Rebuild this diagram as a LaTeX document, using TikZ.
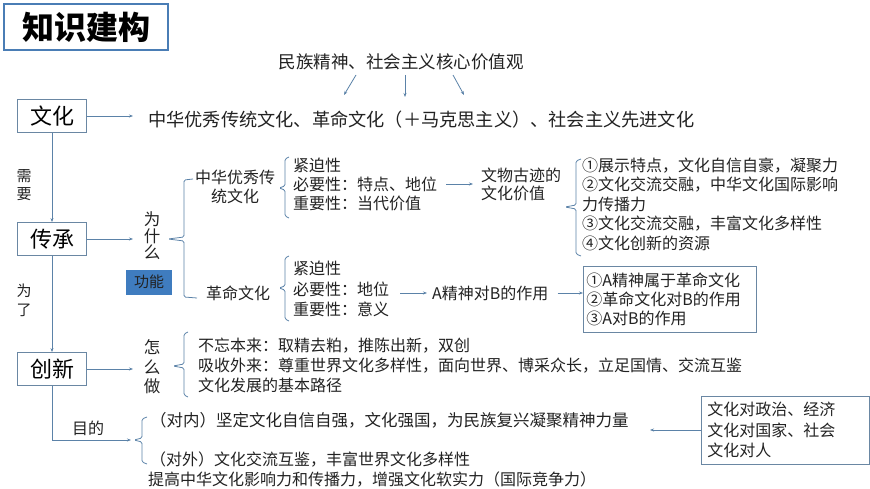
\documentclass[tikz,border=0pt]{standalone}
\usepackage{fontspec}
\setmainfont{Noto Sans CJK SC}
\usetikzlibrary{arrows.meta}
\definecolor{linecol}{HTML}{5B82A8}
\definecolor{boxcol}{HTML}{6A87A3}
\definecolor{titlecol}{HTML}{4A7DB5}
\definecolor{fncol}{HTML}{3F7CBF}
\definecolor{txtcol}{HTML}{222222}
\newcommand{\fs}[2]{\fontsize{#1}{#2}\selectfont}
\begin{document}
\begin{tikzpicture}[x=1pt, y=-1pt,
  line/.style={draw=linecol, line width=0.8pt},
  arr/.style={line, -{Stealth[length=4pt,width=3pt]}},
  brace/.style={line, rounded corners=1.5pt},
  box/.style={draw=boxcol, line width=0.8pt, minimum width=69pt, minimum height=33pt, inner sep=0pt, font=\fs{22}{24}},
  txt/.style={inner sep=0pt, anchor=west, align=left, text=txtcol, font=\fs{16}{19}}]
\useasboundingbox (0,0) rectangle (870,489);

\node [draw=titlecol, line width=2pt, minimum width=164pt, minimum height=46pt, font=\fs{32}{34}\bfseries] (title) at (86,27) {知识建构};

\node [box] (wenhua) at (52,116) {文化};
\node [box] (chuancheng) at (52,239) {传承};
\node [box] (chuangxin) at (52,369) {创新};

\node [txt, anchor=center, font=\fs{17.5}{20}] (values) at (401,62) {民族精神、社会主义核心价值观};
\node [txt, font=\fs{18.2}{20}] (kinds) at (148,120) {中华优秀传统文化、革命文化（＋马克思主义）、社会主义先进文化};
\coordinate (v1) at (356,75); \coordinate (v1e) at (344,95);
\coordinate (v2) at (405,75); \coordinate (v2e) at (405,97);
\coordinate (v3) at (453,75); \coordinate (v3e) at (464,95);
\draw [arr] (v1) -- (v1e);
\draw [arr] (v2) -- (v2e);
\draw [arr] (v3) -- (v3e);

\draw [arr] (wenhua.east) -- ([xshift=-15pt]kinds.west |- wenhua.east);
\draw [arr] (wenhua.south) -- (chuancheng.north);
\draw [arr] (chuancheng.south) -- (chuangxin.north);
\node [txt, anchor=center, align=center, font=\fs{15}{18}] (need) at (24,185) {需\\要};
\node [txt, anchor=center, align=center, font=\fs{15}{19}] (forit) at (24,300) {为\\了};

\node [txt, anchor=center, align=center, font=\fs{16.5}{16.5}] (why) at (152,236) {为\\什\\么};
\draw [arr] (chuancheng.east) -- (133,239);
\node [fill=fncol, minimum width=46pt, minimum height=25pt, inner sep=0pt, font=\fs{15}{17}, text=txtcol] (gongneng) at (149,282) {功能};
\draw [brace] (193,179) -- (184,180) -- (184,237) -- (168,239) -- (184,241) -- (184,297) -- (197,298);

\node [txt, anchor=center, align=center, font=\fs{16}{19}] (zhonghua) at (235,187) {中华优秀传\\统文化};
\draw [brace] (289,157) -- (285,159) -- (285,186) -- (279,188) -- (285,190) -- (285,216) -- (289,218);
\node [txt] (zhlist) at (293,184) {紧迫性\\必要性：特点、地位\\重要性：当代价值};
\node [txt, font=\fs{16}{18}] (relic) at (481,184) {文物古迹的\\文化价值};
\draw [arr] ([xshift=9pt]zhlist.east) -- ([xshift=-8pt]relic.west);
\draw [brace] (581,159) -- (576,161) -- (576,205) -- (565,207) -- (576,209) -- (576,254) -- (581,256);
\node [txt, font=\fs{16}{19.5}] (relicvalue) at (582,204) {①展示特点，文化自信自豪，凝聚力\\②文化交流交融，中华文化国际影响\\力传播力\\③文化交流交融，丰富文化多样性\\④文化创新的资源};

\node [txt, anchor=center] (geming) at (238,293) {革命文化};
\draw [brace] (289,256) -- (285,258) -- (285,286) -- (279,288) -- (285,290) -- (285,319) -- (289,321);
\node [txt, font=\fs{16}{20.5}] (gmlist) at (293,289) {紧迫性\\必要性：地位\\重要性：意义};
\node [txt] (spirit) at (432,293) {A精神对B的作用};
\draw [arr] ([xshift=-32pt]spirit.west) -- ([xshift=-5pt]spirit.west);
\node [draw=boxcol, line width=0.8pt, anchor=west, text width=167pt, minimum height=66pt, inner sep=3pt, align=left, text=txtcol, font=\fs{16}{19}] (effect) at (583,299) {①A精神属于革命文化\\②革命文化对B的作用\\③A对B的作用};
\draw [arr] ([xshift=9pt]spirit.east) -- (effect.west |- spirit.east);

\node [txt, anchor=center, align=center, font=\fs{16.5}{19.5}] (how) at (152,367) {怎\\么\\做};
\draw [arr] (chuangxin.east) -- (133,369);
\draw [brace] (188,332) -- (184,334) -- (184,364) -- (173,366) -- (184,368) -- (184,395) -- (188,397);
\node [txt, font=\fs{16}{20}] (howlist) at (198,365) {不忘本来：取精去粕，推陈出新，双创\\吸收外来：尊重世界文化多样性，面向世界、博采众长，立足国情、交流互鉴\\文化发展的基本路径};

\coordinate (goalin) at (131,440);
\draw [arr] (chuangxin.south) |- (goalin);
\node [txt, anchor=center] (goal) at (88,428) {目的};
\draw [brace] (147,417) -- (142,419) -- (142,438) -- (134,440) -- (142,442) -- (142,462) -- (147,464);
\node [txt, font=\fs{16.5}{19}] (inner) at (150,420) {（对内）坚定文化自信自强，文化强国，为民族复兴凝聚精神力量};
\node [txt] (outer) at (150,460) {（对外）文化交流互鉴，丰富世界文化多样性};
\node [txt] (raise) at (148,480) {提高中华文化影响力和传播力，增强文化软实力（国际竞争力）};

\node [draw=boxcol, line width=0.8pt, anchor=west, text width=156pt, minimum height=64pt, inner sep=6pt, align=left, text=txtcol, font=\fs{16}{20.5}] (fields) at (701,430) {文化对政治、经济\\文化对国家、社会\\文化对人};
\draw [arr] (fields.west) -- ++(-51pt,0);
\end{tikzpicture}
\end{document}
